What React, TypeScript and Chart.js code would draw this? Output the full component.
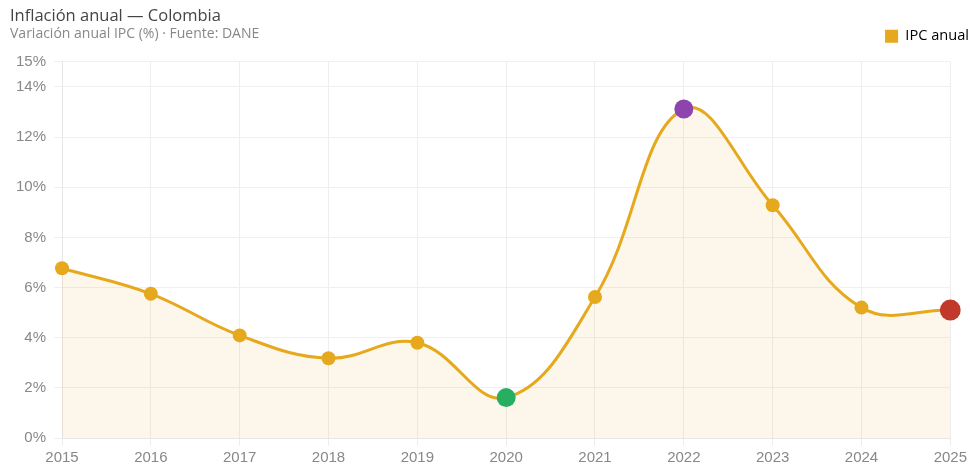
import React, { useEffect, useRef } from "react";
import { Chart, registerables } from "chart.js";

Chart.register(...registerables);

const years = ["2015", "2016", "2017", "2018", "2019", "2020", "2021", "2022", "2023", "2024", "2025"];
const ipc = [6.77, 5.75, 4.09, 3.18, 3.8, 1.61, 5.62, 13.12, 9.28, 5.2, 5.1];
const pointColors = ["#E6A91E", "#E6A91E", "#E6A91E", "#E6A91E", "#E6A91E", "#27AE60", "#E6A91E", "#8E44AD", "#E6A91E", "#E6A91E", "#C0392B"];
const pointSizes = [7, 7, 7, 7, 7, 9.5, 7, 9.5, 7, 7, 10.5];

const TITLE = "Inflación anual — Colombia";
const SUBTITLE = "Variación anual IPC (%) · Fuente: DANE";
const SERIES = "IPC anual";

export default function App() {
  const ref = useRef<HTMLCanvasElement | null>(null);
  useEffect(() => {
    if (!ref.current) return;
    const font = "'Open Sans', 'Noto Sans', sans-serif";
    const tickFont = "'Liberation Sans', Arial, sans-serif";
    const chart = new Chart(ref.current, {
      type: "line",
      data: {
        labels: years,
        datasets: [
          {
            label: SERIES,
            data: ipc,
            borderColor: "#E6A91E",
            backgroundColor: "rgba(230,169,30,0.09)",
            fill: "origin",
            tension: 0.4,
            borderWidth: 3,
            pointRadius: pointSizes,
            pointHoverRadius: pointSizes,
            pointBackgroundColor: pointColors,
            pointBorderColor: pointColors,
            pointBorderWidth: 0,
          },
        ],
      },
      options: {
        responsive: false,
        animation: false,
        layout: { padding: { top: 29, left: 8, right: 1, bottom: 0 } },
        plugins: {
          legend: {
            position: "top",
            align: "end",
            labels: {
              boxWidth: 13,
              boxHeight: 13,
              padding: 0,
              color: "#555",
              font: { family: font, size: 14.6 },
              generateLabels: () => [
                {
                  text: SERIES,
                  fillStyle: "#E6A91E",
                  strokeStyle: "#E6A91E",
                  lineWidth: 0,
                  hidden: false,
                  datasetIndex: 0,
                },
              ],
            },
          },
          subtitle: {
            display: true,
            text: "",
            weight: 500,
            font: { size: 1 },
            padding: { top: 0, bottom: 7 },
          } as any,
          tooltip: { enabled: false },
        },
        scales: {
          x: {
            grid: { color: "#EEEEEE" },
            border: { color: "#E6E6E6" },
            ticks: { color: "#888", padding: 3, font: { family: tickFont, size: 15 } },
          },
          y: {
            min: 0,
            max: 15,
            grid: { color: "#F0F0F0" },
            border: { color: "#E6E6E6" },
            ticks: {
              stepSize: 2,
              color: "#888",
              padding: 8,
              font: { family: tickFont, size: 15 },
              callback: (v: any) => v + "%",
            },
          },
        },
      },
    });
    return () => chart.destroy();
  }, []);
  return (
    <div style={{ position: "fixed", left: 0, top: 0, width: 970, height: 470, background: "#fff" }}>
      <canvas ref={ref} width={970} height={470} style={{ position: "absolute", left: 0, top: 0 }} />
      <div style={{ position: "absolute", left: 10, top: 3, fontFamily: "'Open Sans', 'Noto Sans', sans-serif", fontSize: 16.5, color: "#444", whiteSpace: "nowrap" }}>
        {TITLE}
      </div>
      <div style={{ position: "absolute", left: 10, top: 23, fontFamily: "'Open Sans', 'Noto Sans', sans-serif", fontSize: 14, color: "#888", whiteSpace: "nowrap" }}>
        {SUBTITLE}
      </div>
    </div>
  );
}
